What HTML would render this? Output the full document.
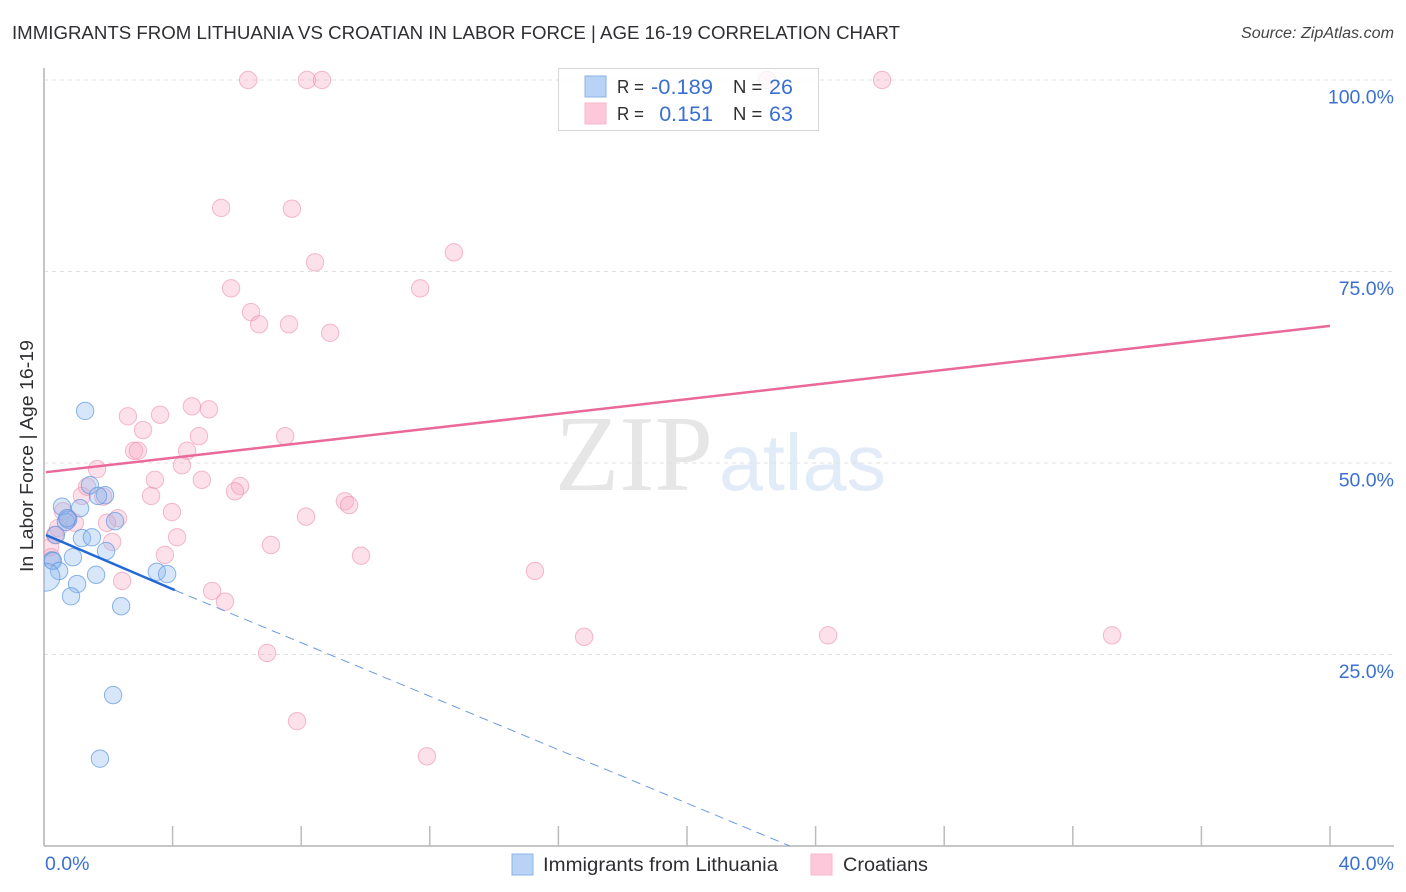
<!DOCTYPE html>
<html lang="en">
<head>
<meta charset="utf-8">
<title>Immigrants from Lithuania vs Croatian in Labor Force | Age 16-19 Correlation Chart</title>
<style>
html,body{margin:0;padding:0;background:#fff;}
#chart{display:block;width:1406px;height:892px;font-family:"Liberation Sans",sans-serif;}
</style>
</head>
<body>
<svg id="chart" xmlns="http://www.w3.org/2000/svg" width="1406" height="892" viewBox="0 0 1406 892">
  <defs><clipPath id="plot-clip"><rect x="44" y="60" width="1350" height="786"></rect></clipPath></defs>
  <text x="12" y="39" font-size="18.5" fill="#2f2f33" textLength="888" lengthAdjust="spacingAndGlyphs">IMMIGRANTS FROM LITHUANIA VS CROATIAN IN LABOR FORCE | AGE 16-19 CORRELATION CHART</text>
  <text x="1241" y="38" font-size="15.5" font-style="italic" fill="#444" textLength="153" lengthAdjust="spacingAndGlyphs">Source: ZipAtlas.com</text>
  <g>
    <text x="555" y="490" font-family="'Liberation Serif',serif" font-size="108" fill="#e6e6e6" textLength="158" lengthAdjust="spacingAndGlyphs">ZIP</text>
    <text x="719" y="490" font-size="80" fill="#e2ecf9" textLength="167" lengthAdjust="spacingAndGlyphs">atlas</text>
  </g>
  <g id="grid"></g>
  <g id="axes"></g>
  <g id="ylabels"></g>
  <g id="xlabels"></g>
  <text transform="translate(33 456) rotate(-90)" font-size="18" fill="#2f2f33" text-anchor="middle" textLength="232" lengthAdjust="spacingAndGlyphs">In Labor Force | Age 16-19</text>
  <g id="points" clip-path="url(#plot-clip)"></g>
  <g id="trends"></g>
  <g>
    <rect x="558.5" y="68.5" width="260" height="62" fill="#fff" fill-opacity="0.78" stroke="#d6d6d6" stroke-width="1"></rect>
    <rect x="585" y="76" width="21" height="21" fill="#b9d3f6" stroke="#8db3e8"></rect>
    <rect x="585" y="103" width="21" height="21" fill="#fdc8da" stroke="#f8b7cd"></rect>
    <text x="617" y="93" font-size="18.5" fill="#2f2f33" textLength="27" lengthAdjust="spacingAndGlyphs">R =</text>
    <text x="651" y="94" font-size="21.5" fill="#3b70d2" textLength="62" lengthAdjust="spacingAndGlyphs">-0.189</text>
    <text x="733" y="93" font-size="18.5" fill="#2f2f33">N =</text>
    <text x="769" y="94" font-size="21.5" fill="#3b70d2">26</text>
    <text x="617" y="120" font-size="18.5" fill="#2f2f33" textLength="27" lengthAdjust="spacingAndGlyphs">R =</text>
    <text x="713" y="121" font-size="21.5" fill="#3b70d2" text-anchor="end">0.151</text>
    <text x="733" y="120" font-size="18.5" fill="#2f2f33">N =</text>
    <text x="769" y="121" font-size="21.5" fill="#3b70d2">63</text>
  </g>
  <g>
    <rect x="512" y="854" width="21" height="21" fill="#b9d3f6" stroke="#8db3e8"></rect>
    <text x="543" y="871" font-size="19.5" fill="#2f2f33" textLength="235" lengthAdjust="spacingAndGlyphs">Immigrants from Lithuania</text>
    <rect x="811" y="854" width="21" height="21" fill="#fdc8da" stroke="#f8b7cd"></rect>
    <text x="843" y="871" font-size="19.5" fill="#2f2f33" textLength="85" lengthAdjust="spacingAndGlyphs">Croatians</text>
  </g>
</svg>
<script>
var yTickValues = [100, 75, 50, 25];
var yTickLabels = ["100.0%", "75.0%", "50.0%", "25.0%"];
var xTickValues = [4, 8, 12, 16, 20, 24, 28, 32, 36, 40];
var xEndLabels = ["0.0%", "40.0%"];

var lithuaniaX = [1.28,1.43,1.90,1.68,0.56,1.12,0.75,0.68,0.72,2.21,1.18,1.49,0.37,0.90,1.93,0.25,0.28,0.47,0.06,1.62,1.03,0.84,3.51,3.83,2.40,2.15,1.74];
var lithuaniaY = [56.8,47.1,45.8,45.7,44.3,44.1,42.6,42.3,42.8,42.4,40.2,40.3,40.6,37.7,38.5,37.3,37.2,35.9,35.1,35.4,34.2,32.6,35.8,35.5,31.3,19.7,11.4];
var lithuaniaWeights = [1,1,1,1,1,1,1,1,1,1,1,1,1,1,1,1,1,1,2.6,1,1,1,1,1,1,1,1];

var croatianX = [6.35,8.18,8.65,22.49,26.07,5.51,7.71,12.75,8.43,5.82,11.70,6.44,6.69,7.62,8.90,2.61,3.61,4.60,5.13,3.08,4.82,7.50,2.80,2.92,4.45,1.65,4.29,3.45,4.91,6.10,5.94,3.33,1.18,1.34,1.84,9.36,9.49,3.98,8.15,2.30,1.96,0.59,0.96,0.75,0.44,0.34,2.12,4.14,7.06,0.19,0.22,3.76,9.86,15.27,2.43,5.23,5.63,16.80,24.39,33.22,6.94,7.87,11.91];
var croatianY = [100,100,100,100,100,83.3,83.2,77.5,76.2,72.8,72.8,69.7,68.1,68.1,67.0,56.1,56.3,57.4,57.0,54.3,53.5,53.5,51.6,51.6,51.6,49.2,49.7,47.8,47.8,47.0,46.3,45.7,45.7,46.9,45.6,45.0,44.5,43.6,43.0,42.8,42.2,43.7,42.2,42.8,41.5,40.6,39.7,40.3,39.3,39.0,37.7,38.0,37.9,35.9,34.6,33.3,31.9,27.3,27.5,27.5,25.2,16.3,11.7];

var croatianTrendX = [0.06, 40];
var croatianTrendY = [48.8, 67.9];
var lithuaniaTrendX = [0.06, 4.07];
var lithuaniaTrendY = [40.6, 33.4];
var lithuaniaDashX = [4.07, 23.2];
var lithuaniaDashY = [33.4, 0];

var NS = "http://www.w3.org/2000/svg";
function xScale(v) { return 44 + v * (1330 - 44) / 40; }
function yScale(v) { return 846 - v * (846 - 80) / 100; }
function make(tag, attrs, parent) {
  var el = document.createElementNS(NS, tag);
  for (var k in attrs) { el.setAttribute(k, attrs[k]); }
  parent.appendChild(el);
  return el;
}

var grid = document.getElementById("grid");
var axes = document.getElementById("axes");
var ylabels = document.getElementById("ylabels");
var xlabels = document.getElementById("xlabels");
var points = document.getElementById("points");
var trends = document.getElementById("trends");

yTickValues.forEach(function (v, i) {
  var line = make("line", {x1: 44, x2: 1394, y1: yScale(v), y2: yScale(v), stroke: "#e0e0e0", "stroke-width": 1, "stroke-dasharray": "4 4"}, grid);
  
  
  var label = make("text", {x: 1394, y: yScale(v) + 23.5, "font-size": 19.5, fill: "#3b70d2", "text-anchor": "end"}, ylabels);
  label.textContent = yTickLabels[i];
  
  
});

var yAxis = make("line", {x1: 44, x2: 44, y1: 68, y2: 846, stroke: "#b4b4b4", "stroke-width": 1.5}, axes);


var xAxis = make("line", {x1: 44, x2: 1394, y1: 846, y2: 846, stroke: "#b4b4b4", "stroke-width": 1.5}, axes);


xTickValues.forEach(function (v) {
  var tick = make("line", {x1: xScale(v), x2: xScale(v), y1: 826, y2: 846, stroke: "#bcbcbc", "stroke-width": 1.5}, axes);
  
  
});

var xLeft = make("text", {x: 45, y: 870, "font-size": 19.5, fill: "#3b70d2"}, xlabels);
xLeft.textContent = xEndLabels[0];


var xRight = make("text", {x: 1394, y: 870, "font-size": 19.5, fill: "#3b70d2", "text-anchor": "end"}, xlabels);
xRight.textContent = xEndLabels[1];



croatianX.forEach(function (v, i) {
  var dot = make("circle", {cx: xScale(v), cy: yScale(croatianY[i]), r: 8.7, fill: "#f8a9c4", "fill-opacity": 0.36, stroke: "#ec8fb0", "stroke-opacity": 0.6, "stroke-width": 1}, points);
  
  
});
lithuaniaX.forEach(function (v, i) {
  var dot = make("circle", {cx: xScale(v), cy: yScale(lithuaniaY[i]), r: 8.7 * Math.sqrt(lithuaniaWeights[i]), fill: "#8fb9ee", "fill-opacity": 0.36, stroke: "#5b97e0", "stroke-opacity": 0.7, "stroke-width": 1}, points);
  
  
});

var pinkLine = make("line", {x1: xScale(croatianTrendX[0]), y1: yScale(croatianTrendY[0]), x2: xScale(croatianTrendX[1]), y2: yScale(croatianTrendY[1]), stroke: "#e9699a", "stroke-width": 2.5}, trends);


var blueLine = make("line", {x1: xScale(lithuaniaTrendX[0]), y1: yScale(lithuaniaTrendY[0]), x2: xScale(lithuaniaTrendX[1]), y2: yScale(lithuaniaTrendY[1]), stroke: "#2369d6", "stroke-width": 2.5}, trends);


var blueDash = make("line", {x1: xScale(lithuaniaDashX[0]), y1: yScale(lithuaniaDashY[0]), x2: xScale(lithuaniaDashX[1]), y2: yScale(lithuaniaDashY[1]), stroke: "#6b9ae0", "stroke-width": 1, "stroke-dasharray": "9 6"}, trends);


</script>
</body>
</html>
